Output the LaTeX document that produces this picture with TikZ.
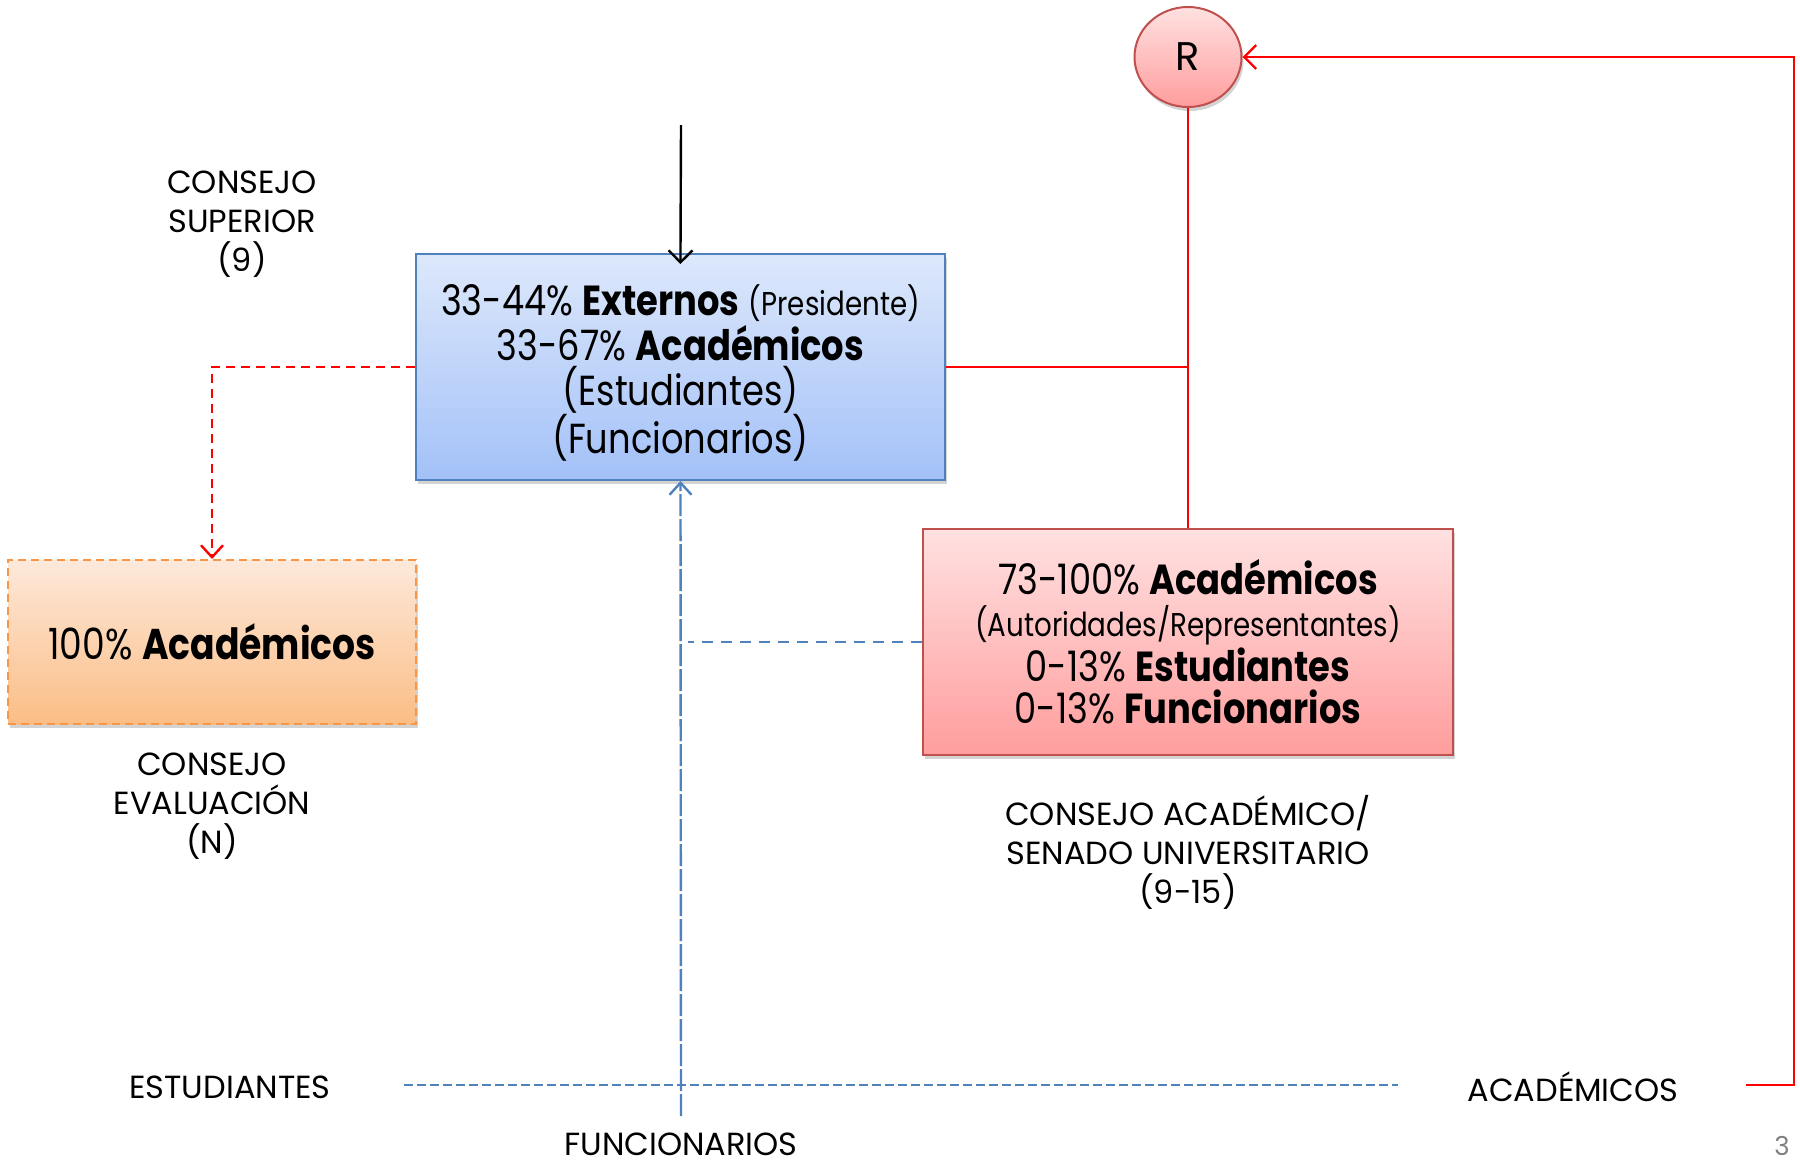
\documentclass[tikz,border=0pt]{standalone}
\usepackage{fontspec}
\setmainfont{Poppins}[FakeStretch=0.84]
\newfontfamily\capfont{Poppins}
\usetikzlibrary{arrows.meta,shadows,shapes.geometric}
\definecolor{bluetop}{HTML}{DDE8FB}
\definecolor{bluebot}{HTML}{A3C1F8}
\definecolor{blueedge}{HTML}{4F81BD}
\definecolor{redtop}{HTML}{FFE1E1}
\definecolor{redbot}{HTML}{FF9D9D}
\definecolor{rededge}{HTML}{C0504D}
\definecolor{orgtop}{HTML}{FDE9DB}
\definecolor{orgbot}{HTML}{FBBD85}
\definecolor{orgedge}{HTML}{F79646}
\definecolor{linered}{HTML}{FF0000}
\definecolor{lineblue}{HTML}{4F81BD}
\begin{document}
\begin{tikzpicture}[x=1pt,y=-1pt,
  shade/.style={drop shadow={opacity=0.35,shadow xshift=2pt,shadow yshift=-4pt}},
  lbl/.style={align=center,font=\capfont\fontsize{32}{39}\selectfont},
  redline/.style={draw=linered,line width=2.4pt},
  tipbarb/.style={-{Straight Barb[length=12pt,width=24pt,line width=2.4pt]}}]
\useasboundingbox (0,0) rectangle (1800,1162);

% boxes
\node[shade,draw=blueedge,line width=2pt,top color=bluetop,bottom color=bluebot,
  minimum width=529pt,minimum height=226pt,inner sep=0pt,align=center,
  font=\fontsize{42}{45}\selectfont]
  (cs) at (680.5,367) {\rule{0pt}{43pt}33-44\% \textbf{Externos} {\fontsize{33}{33}\selectfont(Presidente)}\\
  33-67\% \textbf{Académicos}\\
  (Estudiantes)\\
  (Funcionarios)};

\node[shade,draw=orgedge,line width=2pt,dash pattern=on 8pt off 5pt,top color=orgtop,bottom color=orgbot,
  minimum width=408pt,minimum height=164pt,inner sep=0pt,font=\fontsize{43}{45}\selectfont]
  (ce) at (212,642) {100\% \textbf{Académicos}};

\node[shade,draw=rededge,line width=2pt,top color=redtop,bottom color=redbot,
  minimum width=530pt,minimum height=226pt,inner sep=0pt,align=center,
  font=\fontsize{42}{42}\selectfont]
  (ca) at (1188,642) {73-100\% \textbf{Académicos}\\
  {\fontsize{33}{33}\selectfont (Autoridades/Representantes)}\\[2pt]
  0-13\% \textbf{Estudiantes}\\
  0-13\% \textbf{Funcionarios}};

\node[shade,ellipse,draw=rededge,line width=2pt,top color=redtop,bottom color=redbot,
  minimum width=107pt,minimum height=100pt,inner sep=0pt,font=\capfont\fontsize{40}{44}\selectfont]
  (R) at (1188,57) {R};

% labels
\node[lbl] (lcs) at (242,224) {CONSEJO\\SUPERIOR\\(9)};
\node[lbl] (lce) at (212,806) {CONSEJO\\EVALUACIÓN\\(N)};
\node[lbl] (lca) at (1188,852) {CONSEJO ACADÉMICO/\\SENADO UNIVERSITARIO\\(9-15)};
\node[lbl] (est) at (230,1087) {ESTUDIANTES};
\node[lbl] (aca) at (1573,1087) {ACADÉMICOS};
\node[lbl,inner sep=0pt] (fun) at (681,1144) {FUNCIONARIOS};
\node[font=\capfont\fontsize{26}{30}\selectfont,text=gray,inner sep=0pt] (pg) at (1782,1146) {3};

% coordinates
\coordinate (topin) at (681,125);
\coordinate (estR) at (404,1085);
\coordinate (acaL) at (1398,1085);
\coordinate (funB) at (681,1116);
\coordinate (acaR) at (1746,1085);
\coordinate (corner) at (1794,1085);

% connectors
\draw[line width=2.4pt,-{Straight Barb[length=12pt,width=24pt,line width=2.4pt]},shorten >=-11pt] (topin) -- (cs.north);
\draw[redline,dash pattern=on 9pt off 6pt,-{Straight Barb[length=12pt,width=22pt,line width=2.4pt]}] (cs.west) -| (ce.north);
\draw[redline] (cs.east) -- (cs.east -| R.south);
\draw[redline] (R.south) -- (ca.north);
\draw[redline,tipbarb] (acaR) -- (corner) |- (R.east);
\draw[draw=lineblue,line width=2.4pt,dash pattern=on 9pt off 4pt] (estR) -- (acaL);
\draw[draw=lineblue,line width=2.4pt,dash pattern=on 22pt off 3pt,-{Straight Barb[length=12pt,width=22pt,line width=2.4pt]}] (funB) -- (cs.south);
\draw[draw=lineblue,line width=2.4pt,dash pattern=on 11pt off 8pt,shorten >=7pt] (ca.west) -- (ca.west -| cs.south);
\end{tikzpicture}
\end{document}
